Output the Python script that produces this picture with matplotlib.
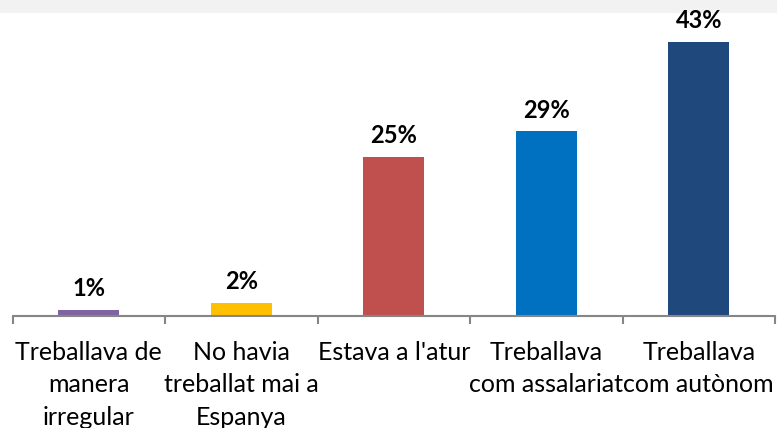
import numpy as np
import matplotlib.pyplot as plt
from matplotlib.patches import Rectangle

categories = ["Treballava de\nmanera\nirregular", "No havia\ntreballat mai a\nEspanya",
              "Estava a l'atur", "Treballava\ncom assalariat", "Treballava\ncom autònom"]
values = [1, 2, 25, 29, 43]
colors = ["#8064A2", "#FFC000", "#C0504D", "#0070C0", "#1F497D"]

plt.rcParams['font.family'] = ['Lato', 'DejaVu Sans']

fig = plt.figure(figsize=(7.77, 4.28), dpi=100)
# light grey band at the top
fig.patches.append(Rectangle((0, 1 - 13 / 428), 1, 13 / 428, transform=fig.transFigure,
                             facecolor="#F2F2F2", edgecolor="none", zorder=-1))
ax = fig.add_axes([12.5 / 777, 1 - 316 / 428, (775 - 12.5) / 777, (316 - 13) / 428])
ax.patch.set_alpha(0)

x = np.arange(len(categories))
bars = ax.bar(x, values, width=0.4, color=colors)
for xi, v in zip(x, values):
    ax.annotate(f"{v}%", (xi, v), xytext=(0, 10), textcoords="offset points",
                ha="center", va="baseline", fontsize=17, fontweight="bold")

ax.set_xlim(-0.5, len(categories) - 0.5)
ax.set_ylim(0, 47.6)
for s in ["top", "right", "left"]:
    ax.spines[s].set_visible(False)
ax.spines["bottom"].set_color("#868686")
ax.spines["bottom"].set_linewidth(1.5)
ax.set_yticks([])
ax.set_xticks(x)
ax.set_xticklabels(categories, fontsize=18, linespacing=1.5)
ax.tick_params(axis="x", which="major", length=0, pad=18)
ax.set_xticks(np.arange(-0.5, len(categories)), minor=True)
ax.tick_params(axis="x", which="minor", length=6, width=1.5, color="#868686")

fig.savefig("out.png", dpi=100)
